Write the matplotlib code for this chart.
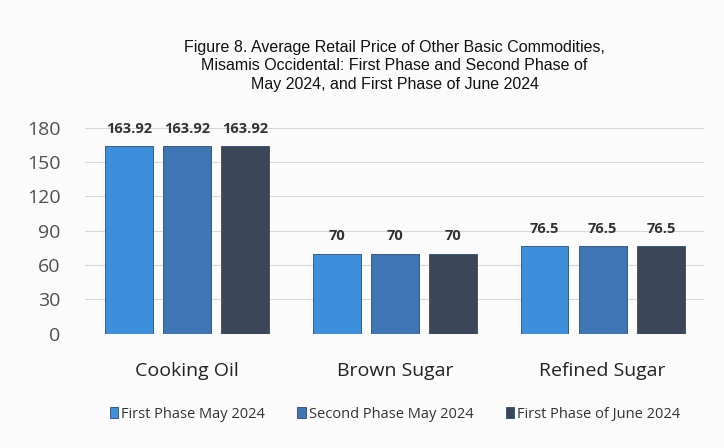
import matplotlib
matplotlib.use('Agg')
import matplotlib.pyplot as plt
import numpy as np

categories = ['Cooking Oil', 'Brown Sugar', 'Refined Sugar']
series_names = ['First Phase May 2024', 'Second Phase May 2024', 'First Phase of June 2024']
first_may = [163.92, 70, 76.5]
second_may = [163.92, 70, 76.5]
first_june = [163.92, 70, 76.5]
colors = ['#3d8fdb', '#3f75b5', '#3b4658']
yticks = [0, 30, 60, 90, 120, 150, 180]

fig = plt.figure(figsize=(7.24, 4.48), dpi=100)
fig.patch.set_facecolor('#fbfbfb')
ax = fig.add_axes([0.118, 0.255, 0.855, 0.46])
ax.set_facecolor('#fbfbfb')

x = np.arange(len(categories))
width = 0.23
step = 0.28
for i, (vals, name) in enumerate(zip([first_may, second_may, first_june], series_names)):
    bars = ax.bar(x + (i - 1) * step, vals, width, color=colors[i], label=name,
                  edgecolor='#2c4a6e', linewidth=0.6, zorder=3)
    for b, v in zip(bars, vals):
        ax.text(b.get_x() + b.get_width() / 2, v + 9, f'{v:g}', ha='center', va='bottom',
                fontsize=10.5, fontweight='bold', color='#333333', family='Open Sans')

ax.set_xlim(-0.49, 2.49)
ax.set_ylim(0, 180)
ax.set_yticks(yticks)
ax.set_yticklabels([str(t) for t in yticks], fontsize=14, color='#505050', family='Open Sans')
ax.set_xticks(x)
ax.set_xticklabels(categories, fontsize=14, color='#222222', family='Open Sans')
ax.tick_params(axis='both', length=0)
ax.tick_params(axis='y', pad=18)
ax.tick_params(axis='x', pad=20)
ax.grid(axis='y', color='#d8d8d8', linewidth=0.8, zorder=0)
for s in ax.spines.values():
    s.set_visible(False)

fig.text(0.545, 0.853, 'Figure 8. Average Retail Price of Other Basic Commodities,\n'
         'Misamis Occidental: First Phase and Second Phase of\n'
         'May 2024, and First Phase of June 2024',
         ha='center', va='center', fontsize=11.5, family='Liberation Sans',
         color='#111111', linespacing=1.3)

ax.legend(loc='upper center', bbox_to_anchor=(0.5, -0.29), ncol=3, frameon=False,
          prop={'family': 'Open Sans', 'size': 10.5}, handlelength=0.6, handleheight=0.7,
          handletextpad=0.2, columnspacing=2.2, labelcolor='#333333')

plt.savefig('out.png', dpi=100, facecolor=fig.get_facecolor())
